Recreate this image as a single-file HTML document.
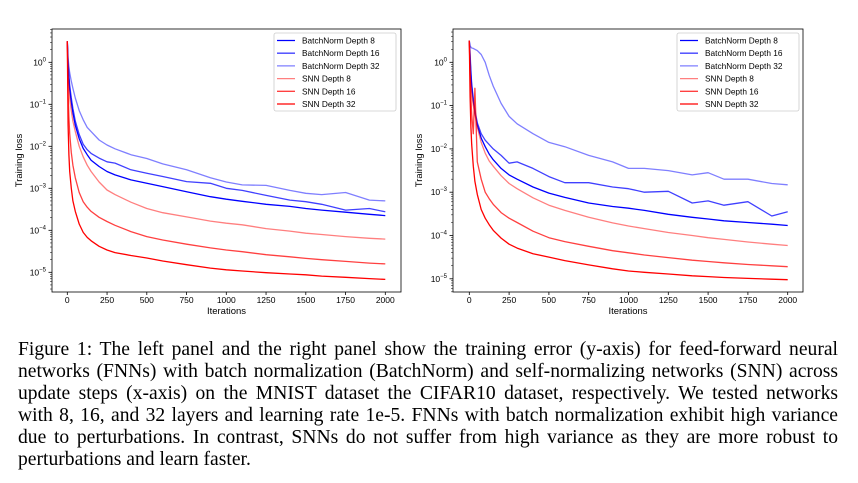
<!DOCTYPE html>
<html><head><meta charset="utf-8"><style>
body{margin:0;background:#fff;width:858px;height:483px;overflow:hidden}
#cap{position:absolute;left:18px;top:339px;width:820px;font-family:"Liberation Serif",serif;font-size:19.6px;line-height:22px;color:#000;margin:0;white-space:nowrap}
#cap span{display:block;text-align:justify;text-align-last:justify}
#cap span.last{text-align-last:left}
svg text{font-family:"Liberation Sans",sans-serif}
</style></head><body>
<svg id="fig" width="858" height="330" style="position:absolute;left:0;top:0"></svg>
<p id="cap"><span>Figure 1: The left panel and the right panel show the training error (y-axis) for feed-forward neural</span><span>networks (FNNs) with batch normalization (BatchNorm) and self-normalizing networks (SNN) across</span><span>update steps (x-axis) on the MNIST dataset the CIFAR10 dataset, respectively. We tested networks</span><span>with 8, 16, and 32 layers and learning rate 1e-5. FNNs with batch normalization exhibit high variance</span><span>due to perturbations. In contrast, SNNs do not suffer from high variance as they are more robust to</span><span class="last">perturbations and learn faster.</span></p>
<script>
const seriesNames=["BatchNorm Depth 8","BatchNorm Depth 16","BatchNorm Depth 32","SNN Depth 8","SNN Depth 16","SNN Depth 32"];
const xTicks=[0,250,500,750,1000,1250,1500,1750,2000];
const yTickExps=[0,-1,-2,-3,-4,-5];
// log10 loss values at iteration points
const iters=[0,5,10,15,25,35,50,75,100,125,150,200,250,300,400,500,600,750,900,1000,1100,1250,1400,1500,1600,1750,1900,2000];
const leftBN8=[0.5,-0.1,-0.4,-0.65,-0.95,-1.2,-1.5,-1.82,-2.05,-2.2,-2.33,-2.48,-2.6,-2.68,-2.8,-2.88,-2.96,-3.08,-3.2,-3.26,-3.31,-3.38,-3.43,-3.48,-3.52,-3.57,-3.62,-3.65];
const leftBN16=[0.5,0.0,-0.3,-0.55,-0.85,-1.1,-1.4,-1.72,-1.95,-2.08,-2.17,-2.28,-2.37,-2.4,-2.56,-2.64,-2.72,-2.84,-2.88,-3.0,-3.05,-3.17,-3.28,-3.32,-3.38,-3.52,-3.48,-3.56];
const leftBN32=[0.5,0.1,-0.1,-0.25,-0.45,-0.62,-0.85,-1.15,-1.37,-1.55,-1.65,-1.85,-1.97,-2.06,-2.2,-2.29,-2.42,-2.56,-2.75,-2.85,-2.92,-2.93,-3.05,-3.12,-3.15,-3.1,-3.28,-3.3];
const leftSNN8=[0.5,-0.3,-0.6,-0.85,-1.15,-1.4,-1.65,-2.0,-2.25,-2.45,-2.6,-2.85,-3.04,-3.15,-3.33,-3.48,-3.58,-3.68,-3.78,-3.83,-3.87,-3.96,-4.02,-4.07,-4.1,-4.15,-4.19,-4.21];
const leftSNN16=[0.5,-0.7,-1.3,-1.7,-2.15,-2.45,-2.75,-3.1,-3.32,-3.45,-3.55,-3.69,-3.79,-3.88,-4.03,-4.15,-4.23,-4.33,-4.42,-4.47,-4.51,-4.58,-4.63,-4.67,-4.7,-4.74,-4.78,-4.8];
const leftSNN32=[0.5,-1.5,-2.2,-2.6,-3.0,-3.3,-3.55,-3.85,-4.05,-4.17,-4.25,-4.38,-4.47,-4.53,-4.6,-4.66,-4.73,-4.82,-4.9,-4.94,-4.97,-5.01,-5.04,-5.06,-5.09,-5.12,-5.15,-5.17];
const rightBN8=[0.5,0.1,-0.3,-0.55,-0.9,-1.15,-1.45,-1.75,-1.95,-2.12,-2.25,-2.45,-2.6,-2.7,-2.88,-3.02,-3.12,-3.25,-3.33,-3.37,-3.42,-3.51,-3.58,-3.62,-3.66,-3.7,-3.74,-3.77];
const rightBN16=[0.5,0.2,-0.2,-0.5,-0.85,-1.1,-1.4,-1.65,-1.8,-1.9,-2.0,-2.15,-2.33,-2.3,-2.45,-2.64,-2.78,-2.78,-2.88,-2.92,-3.0,-2.98,-3.25,-3.2,-3.3,-3.22,-3.55,-3.45];
const rightBN32=[0.5,0.38,0.35,0.33,0.32,0.3,0.27,0.18,0.0,-0.3,-0.55,-0.95,-1.25,-1.42,-1.65,-1.85,-1.95,-2.15,-2.3,-2.45,-2.45,-2.5,-2.6,-2.55,-2.7,-2.7,-2.8,-2.83];
const rightSNN8=[0.5,-0.2,-0.5,-0.7,-1.0,-1.2,-1.5,-1.85,-2.1,-2.28,-2.4,-2.62,-2.8,-2.92,-3.13,-3.3,-3.42,-3.58,-3.71,-3.78,-3.84,-3.93,-4.0,-4.05,-4.09,-4.15,-4.2,-4.23];
const rightSNN16=[0.5,-0.3,-0.8,-1.2,-1.65,-0.6,-2.3,-2.7,-3.0,-3.15,-3.28,-3.47,-3.6,-3.7,-3.9,-4.05,-4.14,-4.25,-4.35,-4.4,-4.45,-4.51,-4.57,-4.6,-4.63,-4.67,-4.7,-4.72];
const rightSNN32=[0.5,-0.8,-1.5,-1.9,-2.4,-2.75,-3.05,-3.4,-3.6,-3.75,-3.88,-4.06,-4.2,-4.29,-4.42,-4.5,-4.58,-4.68,-4.77,-4.82,-4.85,-4.89,-4.93,-4.95,-4.97,-4.99,-5.01,-5.02];
const styles=[["#0000ff",1],["#0000ff",0.75],["#0000ff",0.5],["#ff0000",0.5],["#ff0000",0.75],["#ff0000",1]];
const NS="http://www.w3.org/2000/svg";
const svg=document.getElementById('fig');
function mk(tag,attrs,parent){const e=document.createElementNS(NS,tag);for(const k in attrs)e.setAttribute(k,attrs[k]);(parent||svg).appendChild(e);return e;}
function panel(cfg,data,id){
  const g=mk('g',{});
  
  
  const xs=v=>cfg.x0+(v/2000)*(cfg.x2000-cfg.x0);
  const ys=l=>cfg.y0-l*cfg.dec;
  data.forEach((arr,i)=>{
    const d=arr.map((v,j)=>(j?'L':'M')+xs(iters[j]).toFixed(1)+' '+ys(v).toFixed(1)).join(' ');
    const p=mk('path',{d:d,fill:'none',stroke:styles[i][0],'stroke-opacity':styles[i][1],'stroke-width':1.3,'stroke-linejoin':'round'},g);
    
    
  });
  const box=mk('rect',{x:cfg.L,y:cfg.T,width:cfg.R-cfg.L,height:cfg.B-cfg.T,fill:'none',stroke:'#000','stroke-width':0.8},g);
  
  
  xTicks.forEach(t=>{
    const x=xs(t);
    mk('line',{x1:x,x2:x,y1:cfg.B,y2:cfg.B+3,stroke:'#000','stroke-width':0.8},g);
    const tx=mk('text',{x:x,y:cfg.B+11,'font-size':8.5,'text-anchor':'middle'},g);tx.textContent=t;
    
    
  });
  for(let e=1;e>=-6;e--){for(let m=2;m<10;m++){const y=ys(e+Math.log10(m));if(y>cfg.T&&y<cfg.B)mk('line',{x1:cfg.L-2,x2:cfg.L,y1:y,y2:y,stroke:'#000','stroke-width':0.5},g);}}
  yTickExps.forEach(e=>{
    const y=ys(e);
    mk('line',{x1:cfg.L-3.5,x2:cfg.L,y1:y,y2:y,stroke:'#000','stroke-width':0.8},g);
    const tx=mk('text',{x:cfg.L-6,y:y+3,'font-size':8.5,'text-anchor':'end'},g);
    tx.innerHTML='10<tspan dy="-4" font-size="6">'+(e<0?'\u2212'+(-e):e)+'</tspan>';
    
    
  });
  const xl=mk('text',{x:(cfg.L+cfg.R)/2,y:cfg.B+22,'font-size':9.5,'text-anchor':'middle'},g);xl.textContent='Iterations';
  
  
  const yl=mk('text',{x:0,y:0,'font-size':9.5,'text-anchor':'middle',transform:'translate('+cfg.ylx+','+((cfg.T+cfg.B)/2)+') rotate(-90)'},g);yl.textContent='Training loss';
  
  
  const lg=mk('g',{},g);
  
  
  mk('rect',{x:cfg.lgx,y:33,width:122,height:78,fill:'#fff',stroke:'#ccc','stroke-width':0.8,rx:2},lg);
  seriesNames.forEach((n,i)=>{
    const y=40.5+i*12.7;
    mk('line',{x1:cfg.lgx+3,x2:cfg.lgx+21,y1:y,y2:y,stroke:styles[i][0],'stroke-opacity':styles[i][1],'stroke-width':1.3},lg);
    const t=mk('text',{x:cfg.lgx+28,y:y+3,'font-size':8.3},lg);t.textContent=n;
    
    
  });
}
panel({L:52,R:401,T:29,B:292,x0:67.3,x2000:385.3,y0:62.3,dec:42,ylx:22,lgx:274},[leftBN8,leftBN16,leftBN32,leftSNN8,leftSNN16,leftSNN32],'left');
panel({L:453,R:803,T:29,B:292,x0:469.3,x2000:787.7,y0:62.3,dec:43.3,ylx:422,lgx:677},[rightBN8,rightBN16,rightBN32,rightSNN8,rightSNN16,rightSNN32],'right');
</script>
</body></html>
